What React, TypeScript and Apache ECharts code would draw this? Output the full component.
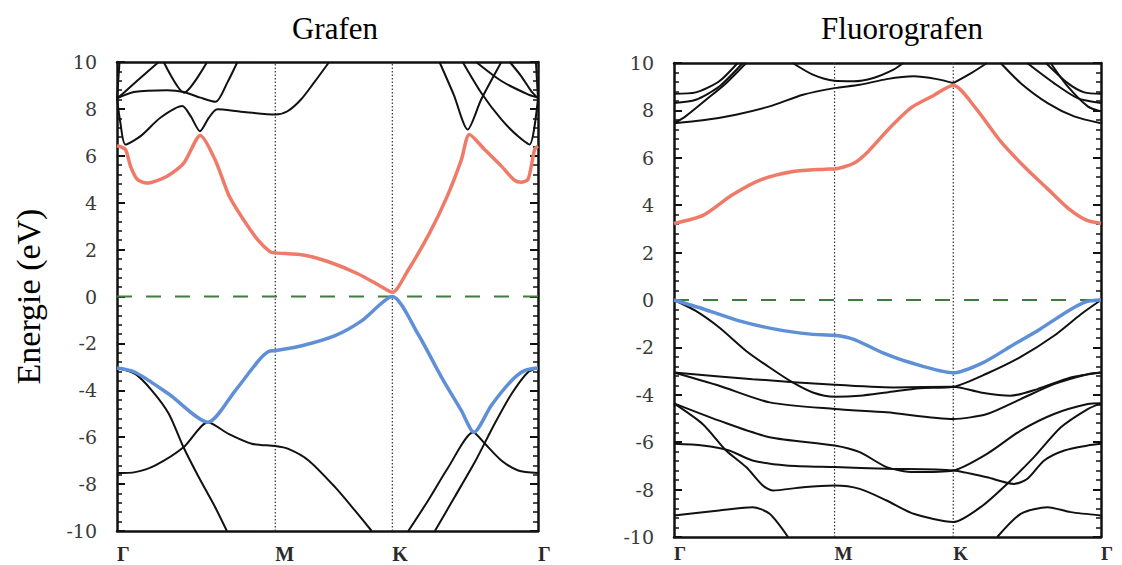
import React, { useEffect, useRef } from "react";
import * as echarts from "echarts";

// k-path positions (fraction of path) and labels
const kTicks = [0, 0.376, 0.654, 1];
const kLabels = ["Γ", "M", "K", "Γ"];
const yTicks = { min: -10, max: 10, step: 2 };

// ---------- Grafen ----------
const grafenRed: number[][] = [
  [0, 6.43], [0.02, 6.27], [0.032, 5.56], [0.048, 5.0], [0.071, 4.84], [0.119, 5.13], [0.159, 5.7], [0.198, 6.87],
  [0.233, 5.83], [0.267, 4.26], [0.301, 3.26], [0.335, 2.4], [0.364, 1.9], [0.376, 1.86], [0.445, 1.76], [0.504, 1.47],
  [0.572, 0.97], [0.623, 0.47], [0.654, 0.18], [0.691, 1.11], [0.742, 2.69], [0.784, 4.26], [0.818, 5.83], [0.837, 6.91],
  [0.873, 6.27], [0.913, 5.56], [0.944, 4.96], [0.96, 4.87], [0.976, 4.99], [0.984, 5.56], [0.992, 6.27], [1, 6.41],
];
const grafenBlue: number[][] = [
  [0, -3.05], [0.043, -3.23], [0.123, -4.16], [0.216, -5.36], [0.281, -4.01], [0.336, -2.74], [0.36, -2.35], [0.376, -2.31],
  [0.439, -2.1], [0.518, -1.67], [0.581, -1.04], [0.654, 0], [0.715, -1.6], [0.771, -3.45], [0.818, -4.87], [0.848, -5.79],
  [0.889, -4.65], [0.937, -3.59], [0.968, -3.16], [1, -3.05],
];
const grafenBlack: number[][][] = [
  [[0, -3.05], [0.043, -3.3], [0.083, -4.01], [0.123, -5.0], [0.158, -6.43], [0.194, -7.7], [0.233, -8.98], [0.261, -10]],
  [[0, -7.53], [0.043, -7.49], [0.091, -7.2], [0.158, -6.43], [0.216, -5.36], [0.265, -5.86], [0.32, -6.28], [0.376, -6.38],
   [0.407, -6.5], [0.455, -6.99], [0.518, -8.13], [0.565, -9.12], [0.605, -10]],
  [[0.755, -10], [0.802, -8.55], [0.85, -7.06], [0.897, -5.43], [0.937, -4.16], [0.976, -3.23], [1, -3.05]],
  [[0.692, -10], [0.739, -8.7], [0.787, -7.28], [0.846, -5.79], [0.874, -6.28], [0.913, -6.99], [0.953, -7.42], [1, -7.53]],
  [[0, 8.45], [0.008, 7.41], [0.02, 6.48], [0.056, 6.84], [0.103, 7.62], [0.155, 8.12], [0.175, 7.69], [0.197, 7.05],
   [0.218, 7.62], [0.238, 7.98], [0.294, 7.88], [0.376, 7.76], [0.405, 7.9], [0.437, 8.4], [0.468, 9.12], [0.504, 10]],
  [[0, 8.45], [0.04, 8.72], [0.119, 8.8], [0.159, 8.72], [0.198, 8.48], [0.234, 8.3], [0.262, 9.12], [0.286, 10]],
  [[0, 8.45], [0.012, 8.62], [0.056, 9.33], [0.099, 10]],
  [[0.111, 10], [0.159, 8.69], [0.214, 10]],
  [[0, 8.45], [0.006, 10]],
  [[0.766, 10], [0.8, 8.6], [0.833, 7.12], [0.865, 8.4], [0.913, 10]],
  [[0.821, 10], [0.865, 8.69], [0.913, 7.55], [0.952, 6.84], [0.98, 6.48], [1, 8.45]],
  [[0.853, 10], [0.913, 9.19], [0.976, 8.62], [1, 8.48]],
  [[0.933, 10], [0.96, 9.4], [0.984, 8.76], [1, 8.45]],
  [[0.995, 10], [1, 8.45]],
];

// ---------- Fluorografen ----------
const fluoroRed: number[][] = [
  [0, 3.23], [0.069, 3.58], [0.136, 4.43], [0.203, 5.07], [0.279, 5.42], [0.354, 5.52], [0.376, 5.53], [0.421, 5.77],
  [0.455, 6.27], [0.505, 7.26], [0.555, 8.11], [0.606, 8.61], [0.654, 9.06], [0.706, 8.11], [0.765, 6.69], [0.824, 5.56],
  [0.874, 4.71], [0.924, 3.86], [0.966, 3.37], [1, 3.23],
];
const fluoroBlue: number[][] = [
  [0, 0], [0.069, -0.38], [0.153, -0.88], [0.237, -1.23], [0.32, -1.44], [0.376, -1.49], [0.421, -1.66], [0.488, -2.22],
  [0.555, -2.65], [0.654, -3.07], [0.723, -2.65], [0.79, -1.94], [0.857, -1.23], [0.924, -0.45], [0.966, -0.07], [1, 0],
];
const fluoroBlack: number[][][] = [
  [[0, 0], [0.051, -0.46], [0.106, -1.16], [0.169, -2.15], [0.224, -2.85], [0.278, -3.48], [0.325, -3.9], [0.376, -4.08],
   [0.435, -4.04], [0.498, -3.9], [0.576, -3.72], [0.654, -3.66], [0.733, -3.1], [0.812, -2.4], [0.89, -1.51], [0.953, -0.6], [1, 0]],
  [[0, -3.06], [0.184, -3.34], [0.376, -3.58], [0.514, -3.69], [0.654, -3.66], [0.718, -3.9], [0.788, -4.04], [0.851, -3.76],
   [0.929, -3.27], [1, -3.06]],
  [[0, -3.06], [0.106, -3.62], [0.224, -4.32], [0.376, -4.6], [0.498, -4.74], [0.654, -5.02], [0.733, -4.81], [0.812, -4.18],
   [0.89, -3.55], [0.969, -3.13], [1, -3.06]],
  [[0, -4.36], [0.106, -5.09], [0.224, -5.79], [0.376, -6.14], [0.435, -6.42], [0.498, -7.05], [0.561, -7.26], [0.654, -7.19],
   [0.733, -6.49], [0.812, -5.51], [0.89, -4.81], [0.969, -4.39], [1, -4.36]],
  [[0, -4.36], [0.067, -5.23], [0.122, -6.35], [0.169, -7.05], [0.208, -7.83], [0.231, -8.04], [0.302, -7.9], [0.376, -7.83],
   [0.435, -7.97], [0.498, -8.46], [0.561, -9.02], [0.654, -9.37], [0.718, -8.74], [0.78, -7.76], [0.843, -6.63], [0.906, -5.37],
   [0.969, -4.6], [1, -4.36]],
  [[0, -6.07], [0.067, -6.14], [0.129, -6.35], [0.184, -6.77], [0.263, -6.98], [0.376, -7.05], [0.498, -7.12], [0.654, -7.19],
   [0.733, -7.48], [0.796, -7.76], [0.827, -7.55], [0.867, -6.77], [0.914, -6.35], [0.969, -6.14], [1, -6.07]],
  [[0, -9.09], [0.106, -8.88], [0.184, -8.74], [0.224, -9.02], [0.267, -10]],
  [[0.757, -10], [0.812, -9.02], [0.875, -8.74], [0.929, -8.95], [1, -9.09]],
  [[0, 7.46], [0.067, 7.58], [0.145, 7.82], [0.224, 8.17], [0.302, 8.66], [0.376, 8.94], [0.435, 9.08], [0.498, 9.32],
   [0.561, 9.44], [0.616, 9.32], [0.654, 9.15]],
  [[0.654, 9.15], [0.694, 9.55], [0.733, 10]],
  [[0.278, 10], [0.325, 9.51], [0.376, 9.25], [0.42, 9.23], [0.467, 9.37], [0.514, 9.72], [0.537, 10]],
  [[0, 7.46], [0.027, 7.75], [0.075, 8.45], [0.122, 9.15], [0.169, 10]],
  [[0, 8.31], [0.051, 8.45], [0.106, 9.01], [0.161, 10]],
  [[0, 8.7], [0.051, 8.76], [0.106, 9.23], [0.149, 10]],
  [[0.765, 10], [0.812, 9.15], [0.875, 8.31], [0.937, 7.75], [1, 7.46]],
  [[0.827, 10], [0.89, 9.15], [0.945, 8.52], [1, 8.31]],
  [[0.871, 10], [0.922, 9.15], [0.961, 8.76], [1, 8.7]],
  [[0.882, 10], [0.922, 9.01], [0.969, 8.17], [1, 7.96]],
];

const RED = "#f07a68";
const BLUE = "#5f8fd6";
const BLACK = "#111111";
const SERIF = "'Liberation Serif', 'DejaVu Serif', serif";
const NUMFONT = "'DejaVu Serif', 'Liberation Serif', serif";

function bandSeries(data: number[][], color: string, width: number, gi: number, z: number) {
  return {
    type: "line",
    data,
    xAxisIndex: gi * 2,
    yAxisIndex: gi * 2,
    symbol: "none",
    smooth: 0.25,
    silent: true,
    z,
    lineStyle: { color, width },
  };
}

function guideSeries(gi: number) {
  const s: any[] = [];
  [kTicks[1], kTicks[2]].forEach((k) => {
    s.push({
      type: "line",
      data: [[k, yTicks.min], [k, yTicks.max]],
      xAxisIndex: gi * 2,
      yAxisIndex: gi * 2,
      symbol: "none",
      silent: true,
      z: 1,
      lineStyle: { color: "#333", width: 1.2, type: [1.5, 2] },
    });
  });
  s.push({
    type: "line",
    data: [[0, 0], [1, 0]],
    xAxisIndex: gi * 2,
    yAxisIndex: gi * 2,
    symbol: "none",
    silent: true,
    z: 2,
    lineStyle: { color: "#3d7d3d", width: 2, type: [15, 14] },
  });
  return s;
}

function axesFor(gi: number, withName: boolean, labelMargin: number, labelSize: number) {
  const xBottom = {
    type: "value",
    gridIndex: gi,
    min: 0,
    max: 1,
    position: "bottom",
    axisLine: { show: true, onZero: false, lineStyle: { color: BLACK, width: 2.5 } },
    axisTick: { show: false },
    splitLine: { show: false },
    axisLabel: {
      customValues: kTicks,
      formatter: (v: number) => {
        const i = kTicks.findIndex((t) => Math.abs(t - v) < 1e-6);
        return i >= 0 ? kLabels[i] : "";
      },
      align: "left",
      margin: labelMargin,
      fontFamily: SERIF,
      fontSize: labelSize,
      fontWeight: "bold",
      color: "#2a2a2a",
    },
  };
  const xTop = {
    type: "value",
    gridIndex: gi,
    min: 0,
    max: 1,
    position: "top",
    axisLine: { show: true, onZero: false, lineStyle: { color: BLACK, width: 2.5 } },
    axisTick: { show: false },
    axisLabel: { show: false },
    splitLine: { show: false },
  };
  const yCommon = {
    type: "value",
    gridIndex: gi,
    min: yTicks.min,
    max: yTicks.max,
    interval: yTicks.step,
    axisLine: { show: true, onZero: false, lineStyle: { color: BLACK, width: 2.5 } },
    axisTick: { show: true, inside: true, length: 8, lineStyle: { color: BLACK, width: 2 } },
    minorTick: { show: true, splitNumber: 5, length: 5, lineStyle: { color: BLACK, width: 1.5 } },
    splitLine: { show: false },
  };
  const yLeft: any = {
    ...yCommon,
    position: "left",
    axisLabel: { margin: 20, fontFamily: NUMFONT, fontSize: 19, color: "#3a3a3a" },
  };
  if (withName) {
    yLeft.name = "Energie (eV)";
    yLeft.nameLocation = "middle";
    yLeft.nameGap = 72;
    yLeft.nameRotate = 90;
    yLeft.nameTextStyle = { fontFamily: SERIF, fontSize: 34, color: "#000" };
  }
  const yRight = { ...yCommon, position: "right", axisLabel: { show: false } };
  return { x: [xBottom, xTop], y: [yLeft, yRight] };
}

export default function App() {
  const ref = useRef<HTMLDivElement>(null);
  useEffect(() => {
    document.body.style.margin = "0";
    if (!ref.current) return;
    const chart = echarts.init(ref.current, null, { renderer: "svg" });
    const a0 = axesFor(0, true, 13, 20);
    const a1 = axesFor(1, false, 7, 19);
    const series: any[] = [];
    [0, 1].forEach((gi) => series.push(...guideSeries(gi)));
    grafenBlack.forEach((b) => series.push(bandSeries(b, BLACK, 2, 0, 3)));
    fluoroBlack.forEach((b) => series.push(bandSeries(b, BLACK, 2, 1, 3)));
    series.push(bandSeries(grafenRed, RED, 3.5, 0, 4));
    series.push(bandSeries(grafenBlue, BLUE, 3.5, 0, 4));
    series.push(bandSeries(fluoroRed, RED, 3.5, 1, 4));
    series.push(bandSeries(fluoroBlue, BLUE, 3.5, 1, 4));
    chart.setOption({
      animation: false,
      backgroundColor: "#fff",
      title: [
        { text: "Grafen", left: 330, top: 8, textAlign: "center", textStyle: { fontFamily: SERIF, fontSize: 31, fontWeight: "normal", color: "#000" } },
        { text: "Fluorografen", left: 897, top: 8, textAlign: "center", textStyle: { fontFamily: SERIF, fontSize: 31, fontWeight: "normal", color: "#000" } },
      ],
      grid: [
        { left: 117, right: 584, top: 62, bottom: 34, outerBoundsMode: "none", containLabel: false },
        { left: 674, right: 21, top: 63, bottom: 28, outerBoundsMode: "none", containLabel: false },
      ],
      xAxis: [...a0.x, ...a1.x],
      yAxis: [...a0.y, ...a1.y],
      series,
    });
    return () => chart.dispose();
  }, []);
  return <div ref={ref} style={{ width: 1122, height: 565 }} />;
}
